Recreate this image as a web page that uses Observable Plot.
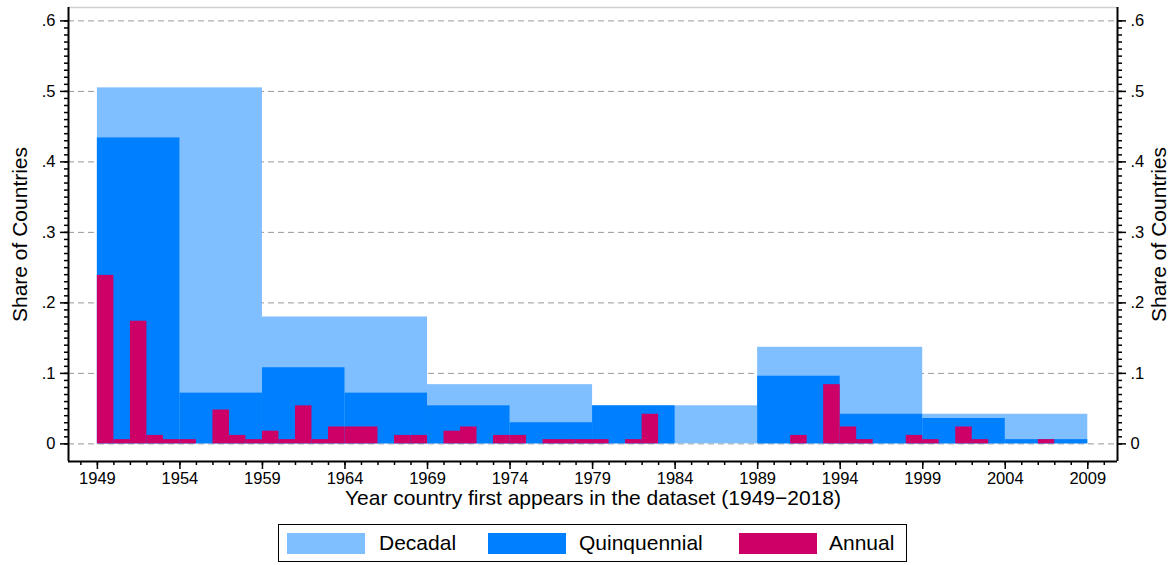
<!DOCTYPE html>
<html>
<head>
<meta charset="utf-8">
<script src="https://cdn.jsdelivr.net/npm/d3@7"></script>
<script src="https://cdn.jsdelivr.net/npm/@observablehq/plot@0.6"></script>
<style>
  html, body { margin: 0; padding: 0; background: #fff; }
  #wrap { position: relative; width: 1175px; height: 565px; font-family: "Liberation Sans", Arial, Helvetica, sans-serif; }
  #legend { position: absolute; left: 278px; top: 524px; width: 629px; height: 38px; border: 1px solid #000; box-sizing: border-box; }
  .sw { position: absolute; top: 8px; width: 78px; height: 21px; }
  .lb { position: absolute; top: 6px; font-size: 21px; line-height: 24px; color: #000; }
</style>
</head>
<body>
<div id="wrap"><div id="chart"></div><div id="legend"></div></div>
<script>
// ---- data (shares of countries by year of first appearance) ----
const decadeStarts = [1949, 1959, 1969, 1979, 1989, 1999];
const decadeShares = [0.505, 0.180, 0.084, 0.054, 0.137, 0.042];

const quinStarts = [1949, 1954, 1959, 1964, 1969, 1974, 1979, 1984, 1989, 1994, 1999, 2004];
const quinShares = [0.434, 0.072, 0.108, 0.072, 0.054, 0.030, 0.054, 0.000, 0.096, 0.042, 0.036, 0.006];

const annualYears  = [1949, 1950, 1951, 1952, 1953, 1954, 1956, 1957, 1958, 1959, 1960, 1961, 1962, 1963, 1964, 1965, 1967, 1968, 1970, 1971, 1973, 1974, 1976, 1977, 1978, 1979, 1981, 1982, 1991, 1993, 1994, 1995, 1998, 1999, 2001, 2002, 2006];
const annualShares = [0.239, 0.006, 0.174, 0.012, 0.006, 0.006, 0.048, 0.012, 0.006, 0.018, 0.006, 0.054, 0.006, 0.024, 0.024, 0.024, 0.012, 0.012, 0.018, 0.024, 0.012, 0.012, 0.006, 0.006, 0.006, 0.006, 0.006, 0.042, 0.012, 0.084, 0.024, 0.006, 0.012, 0.006, 0.024, 0.006, 0.006];

const xTickYears = [1949, 1954, 1959, 1964, 1969, 1974, 1979, 1984, 1989, 1994, 1999, 2004, 2009];
const yTickValues = [0, 0.1, 0.2, 0.3, 0.4, 0.5, 0.6];

const seriesNames = ["Decadal", "Quinquennial", "Annual"];
const seriesColors = ["#80BFFF", "#0080FF", "#CC0066"];

const xTitle = "Year country first appears in the dataset (1949\u22122018)";
const yTitle = "Share of Countries";

// ---- derived tables ----
const decades = decadeStarts.map((s, i) => ({x1: s, x2: s + 10, share: decadeShares[i]}));
const quins = quinStarts.map((s, i) => ({x1: s, x2: s + 5, share: quinShares[i]}));
const annual = annualYears.map((s, i) => ({x1: s, x2: s + 1, share: annualShares[i]}));
const minorX = d3.range(1948, 2011);
const minorY = d3.range(0, 61).map(d => d / 100);

const xDomain = [1947.25, 2010.8];
const yDomain = [-0.025, 0.619];
const yFmt = d => d === 0 ? "0" : String(+d.toFixed(1)).replace(/^0\./, ".");

const chart = Plot.plot({
  width: 1175,
  height: 515,
  marginTop: 7,
  marginBottom: 54,
  marginLeft: 68,
  marginRight: 58,
  x: {domain: xDomain},
  y: {domain: yDomain},
  style: {fontFamily: "'Liberation Sans', Arial, Helvetica, sans-serif", fontSize: "16px", color: "#000", background: "#fff", overflow: "visible"},
  marks: [
    Plot.ruleY(yTickValues, {stroke: "#999", strokeWidth: 1, strokeDasharray: "6,4"}),
    Plot.rect(decades, {x1: "x1", x2: "x2", y1: 0, y2: "share", fill: seriesColors[0]}),
    Plot.rect(quins.filter(d => d.share > 0), {x1: "x1", x2: "x2", y1: 0, y2: "share", fill: seriesColors[1]}),
    Plot.rect(annual, {x1: "x1", x2: "x2", y1: 0, y2: "share", fill: seriesColors[2]}),
    Plot.ruleY([yDomain[1]], {stroke: "#cfcfcf", strokeWidth: 1.5}),
    Plot.ruleX([xDomain[0], xDomain[1]], {stroke: "#000", strokeWidth: 2}),
    Plot.ruleY([yDomain[0]], {stroke: "#000", strokeWidth: 2}),
    Plot.axisX(xTickYears, {tickSize: 8, tickPadding: 3, tickFormat: d => String(d), fontSize: 16.5, strokeWidth: 1.5, label: null}),
    Plot.axisX(minorX, {tickSize: 4, tickFormat: () => "", strokeWidth: 1.5, label: null}),
    Plot.axisY(yTickValues, {anchor: "left", tickSize: 8, tickPadding: 5, tickFormat: yFmt, fontSize: 16.5, strokeWidth: 1.5, label: null}),
    Plot.axisY(minorY, {anchor: "left", tickSize: 4, tickFormat: () => "", strokeWidth: 1.5, label: null}),
    Plot.axisY(yTickValues, {anchor: "right", tickSize: 8, tickPadding: 5, tickFormat: yFmt, fontSize: 16.5, strokeWidth: 1.5, label: null}),
    Plot.axisY(minorY, {anchor: "right", tickSize: 4, tickFormat: () => "", strokeWidth: 1.5, label: null}),
    Plot.text([xTitle], {frameAnchor: "bottom", dy: 37, fontSize: 21, lineAnchor: "middle", textAnchor: "middle"}),
    Plot.text([yTitle], {frameAnchor: "left", dx: -48, rotate: -90, fontSize: 21, lineAnchor: "middle", textAnchor: "middle"}),
    Plot.text([yTitle], {frameAnchor: "right", dx: 42, rotate: -90, fontSize: 21, lineAnchor: "middle", textAnchor: "middle"})
  ]
});
document.getElementById("chart").appendChild(chart);

// ---- legend ----
const legend = document.getElementById("legend");
const swLeft = [8, 209, 460];
const lbLeft = [100, 300, 550];
seriesNames.forEach((name, i) => {
  const sw = document.createElement("div");
  sw.className = "sw";
  sw.style.left = swLeft[i] + "px";
  sw.style.background = seriesColors[i];
  legend.appendChild(sw);
  const lb = document.createElement("div");
  lb.className = "lb";
  lb.style.left = lbLeft[i] + "px";
  lb.textContent = name;
  legend.appendChild(lb);
});
</script>
</body>
</html>
